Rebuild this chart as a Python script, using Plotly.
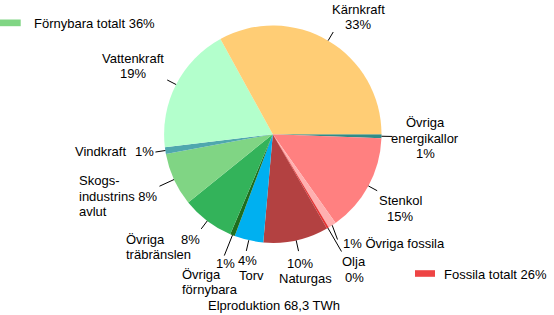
import math
import plotly.graph_objects as go

# ---- data (share of electricity production, %) ----
categories = ["Övriga energikallor", "Stenkol", "Övriga fossila", "Olja", "Naturgas",
              "Torv", "Övriga förnybara", "Övriga träbränslen", "Skogsindustrins avlut",
              "Vindkraft", "Vattenkraft", "Kärnkraft"]
shares = [0.6, 14.6, 1.2, 0.3, 9.7, 4.3, 0.7, 7.8, 7.9, 1.0, 18.9, 33.0]
renewable = ["Övriga förnybara", "Övriga träbränslen", "Skogsindustrins avlut", "Vindkraft", "Vattenkraft"]
fossil = ["Stenkol", "Övriga fossila", "Olja", "Naturgas"]
title_text = "Elproduktion 68,3 TWh"

colors = ["#2E8C88", "#FF8080", "#FFB0B0", "#E63232", "#B34141", "#00B0F0",
          "#1E6E1E", "#33B35A", "#80D584", "#4FA8AE", "#B3FFCC", "#FFCD75"]

W, H = 554, 315
CX, CY, R = 272.8, 134.2, 108.7
FONT = "Liberation Sans, Arial, sans-serif"
FS = 13


def pct(name):
    v = shares[categories.index(name)]
    return f"{int(v + 0.5)}%"


fig = go.Figure(go.Pie(
    labels=categories, values=shares, sort=False, direction="clockwise", rotation=90,
    marker=dict(colors=colors, line=dict(width=0)), textinfo="none", hoverinfo="label+percent",
    showlegend=False,
    domain=dict(x=[(CX - R) / W, (CX + R) / W], y=[1 - (CY + R) / H, 1 - (CY - R) / H]),
))


def px(x, y):
    return x / W, 1 - y / H


shapes = []
annotations = []

# mid angles (clockwise from 3 o'clock, screen coordinates)
total = sum(shares)
mid = {}
acc = 0.0
for c, v in zip(categories, shares):
    mid[c] = (acc + v / 2) / total * 2 * math.pi
    acc += v

# leader lines: radial length, or explicit end point
leader = {
    "Kärnkraft": 10, "Vattenkraft": 10, "Vindkraft": 10, "Skogsindustrins avlut": 16,
    "Övriga träbränslen": 10, "Övriga förnybara": 22, "Torv": 11, "Naturgas": 11,
    "Stenkol": 10, "Övriga energikallor": 11,
    "Övriga fossila": (337.5, 239.5), "Olja": (341.5, 251.5),
}
for c, spec in leader.items():
    a = mid[c]
    x0, y0 = CX + R * math.cos(a), CY + R * math.sin(a)
    if isinstance(spec, tuple):
        x1, y1 = spec
    else:
        x1, y1 = CX + (R + spec) * math.cos(a), CY + (R + spec) * math.sin(a)
    p0, p1 = px(x0, y0), px(x1, y1)
    shapes.append(dict(type="line", xref="paper", yref="paper", x0=p0[0], y0=p0[1],
                       x1=p1[0], y1=p1[1], line=dict(color="black", width=1)))


def text(t, x, y, anchor="center"):
    p = px(x, y)
    annotations.append(dict(text=t, x=p[0], y=p[1], xref="paper", yref="paper",
                            xanchor=anchor, yanchor="middle", showarrow=False,
                            font=dict(family=FONT, size=FS, color="black")))


# labels
text("Kärnkraft", 358, 9.5); text(pct("Kärnkraft"), 358, 24.7)
text("Vattenkraft", 133.3, 58.3); text(pct("Vattenkraft"), 133.3, 73)
text("Vindkraft", 127.5, 151.7, "right"); text(pct("Vindkraft"), 144, 151.7)
text("Skogs-", 77, 180.7, "left")
text("industrins " + pct("Skogsindustrins avlut"), 77, 196.2, "left")
text("avlut", 77, 211.7, "left")
text("Övriga", 123.5, 239.3, "left"); text("träbränslen", 123.5, 254.6, "left")
text(pct("Övriga träbränslen"), 190.3, 239.3)
text(pct("Övriga förnybara"), 225, 263.3)
text("Övriga", 179.5, 274.3, "left"); text("förnybara", 179.5, 289, "left")
text(pct("Torv"), 247.5, 260); text("Torv", 251.7, 275.7)
text(pct("Naturgas"), 299.8, 263.3); text("Naturgas", 305.8, 278)
text("Olja", 354, 261.7); text(pct("Olja"), 354, 277)
text(pct("Övriga fossila") + " Övriga fossila", 340.5, 243.5, "left")
text("Stenkol", 400, 200); text(pct("Stenkol"), 400, 216)
text("Övriga", 425, 122.7); text("energikallor", 425, 138.3); text(pct("Övriga energikallor"), 425, 153.5)

# group legends
ren_total = sum(shares[categories.index(c)] for c in renewable)
fos_total = sum(shares[categories.index(c)] for c in fossil)
for (x0, y0, x1, y1, col) in [(0, 19.5, 20.7, 26.2, "#80D584"), (415, 270.2, 435, 276.8, "#EE4444")]:
    a, b = px(x0, y0), px(x1, y1)
    shapes.append(dict(type="rect", xref="paper", yref="paper", x0=a[0], y0=a[1], x1=b[0], y1=b[1],
                       fillcolor=col, line=dict(width=0)))
text(f"Förnybara totalt {int(ren_total + 0.5)}%", 31.7, 23.3, "left")
text(f"Fossila totalt {int(fos_total + 0.5)}%", 442.3, 274, "left")

text(title_text, 274, 305.7)

fig.update_layout(width=W, height=H, margin=dict(l=0, r=0, t=0, b=0),
                  paper_bgcolor="white", plot_bgcolor="white",
                  shapes=shapes, annotations=annotations)
fig.write_html("out.html")
